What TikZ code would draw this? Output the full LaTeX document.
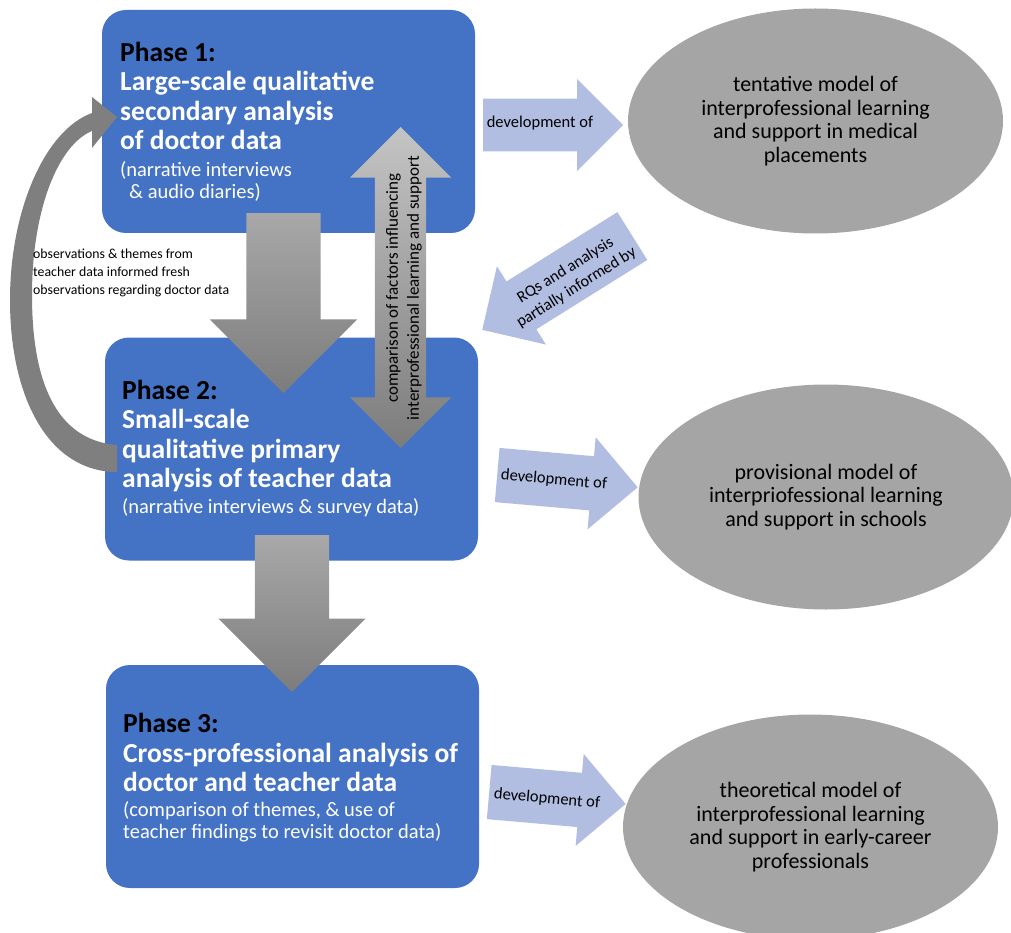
\documentclass[tikz,border=0pt]{standalone}
\usepackage{fontspec}
\setmainfont{Carlito}
\usetikzlibrary{positioning,shapes.geometric,shapes.arrows}
\definecolor{phaseblue}{HTML}{4472C4}
\definecolor{arrowblue}{HTML}{B1BEE1}
\definecolor{modelgray}{HTML}{A5A5A5}
\definecolor{flowlight}{HTML}{A8A8A8}
\definecolor{flowdark}{HTML}{7C7C7C}
\definecolor{cmplight}{HTML}{C4C4C4}
\definecolor{loopgray}{HTML}{7F7F7F}
\tikzset{
    phasebox/.style = {rectangle, rounded corners=24pt, fill=phaseblue, minimum width=373pt, minimum height=223pt, inner sep=0pt},
    phasetitle/.style = {anchor=north west, align=left, inner sep=0pt, text=white, font=\fontsize{27.5}{29.5}\selectfont\bfseries},
    phasenote/.style = {anchor=north west, align=left, inner sep=0pt, text=white, font=\fontsize{20.5}{22}\selectfont},
    model/.style = {ellipse, fill=modelgray, minimum width=375pt, minimum height=225pt, inner sep=0pt, align=center, font=\fontsize{22}{23.5}\selectfont},
    devarrow/.style = {single arrow, fill=arrowblue, single arrow head extend=19pt, minimum width=92pt, inner xsep=0pt, inner ysep=27pt},
    devtext/.style = {inner sep=0pt, align=center, font=\fontsize{16.5}{19.5}\selectfont},
    flowarrow/.style = {single arrow, single arrow head extend=36.5pt, minimum width=147pt, inner xsep=0pt, inner ysep=37pt, top color=flowlight, bottom color=flowdark}
}

\begin{document}
\begin{tikzpicture}[x=1pt, y=-1pt]
\useasboundingbox (0,0) rectangle (1011,933);

% phases
\node[phasebox] (ph1) at (288.5,121.5) {};
\node[phasebox] (ph2) at (291.5,449) {};
\node[phasebox] (ph3) at (292.5,776.5) {};

% models
\node[model] (m1) at (815.5,121) {tentative model of\\interprofessional learning\\and support in medical\\placements};
\node[model] (m2) at (826,497) {provisional model of\\interpriofessional learning\\and support in schools};
\node[model] (m3) at (810.5,827) {theoretical model of\\interprofessional learning\\and support in early-career\\professionals};

% development arrows
\node[devarrow, anchor=tail, minimum height=140pt, inner ysep=25.5pt] (d1) at (483,125) {};
\node[devarrow, anchor=tail, minimum height=141pt, rotate=-5] (d2) at (497,475) {};
\node[devarrow, anchor=tail, minimum height=137pt, rotate=-5] (d3) at (489,792) {};
\node[devtext] (d1t) at (540,123) {development of};
\node[devtext, rotate=-5] (d2t) at (554,480) {development of};
\node[devtext, rotate=-5] (d3t) at (547,799) {development of};

\node[devarrow, anchor=tip, shape border rotate=180, rotate=32, minimum height=177pt, single arrow head extend=18pt, inner ysep=28pt] (rq) at (482,330) {};
\node[devtext, rotate=32, font=\fontsize{16.3}{20.5}\selectfont] (rqt) at (571,279) {RQs and analysis\\partially informed by};

% flow between phases
\node[flowarrow, anchor=tail, rotate=-90, minimum height=180pt] (f1) at (283.5,213) {};
\node[flowarrow, anchor=tail, rotate=-90, minimum height=157pt] (f2) at (292,535) {};

\node[double arrow, rotate=90, minimum height=321pt, minimum width=101pt, double arrow head extend=25pt, inner xsep=0pt, inner ysep=25.5pt, top color=cmplight, bottom color=flowdark] (cmp) at (400.5,287.5) {};
\node[devtext, rotate=90, font=\fontsize{17}{21}\selectfont] (cmpt) at (404,288) {comparison of factors influencing\\interprofessional learning and support};

% loop back from phase 2 to phase 1
\fill[loopgray] (117,445) .. controls (55,440) and (32,380) .. (32,295)
    .. controls (32,210) and (58,145) .. (92,131) -- (92,148) -- (117,117) -- (92,97) -- (92,113)
    .. controls (45,130) and (10,210) .. (10,300) .. controls (10,400) and (50,472) .. (117,472) -- cycle;
\node[anchor=west, align=left, inner sep=0pt, font=\fontsize{13.8}{18}\selectfont] (obs) at (33,273) {observations \& themes from\\teacher data informed fresh\\observations regarding doctor data};

% phase texts
\node[phasetitle] (t1) at (120,42) {\textcolor{black}{Phase 1:}\\Large-scale qualitative\\secondary analysis\\of doctor data};
\node[phasenote] (n1) at (120,161) {(narrative interviews\\\hspace{9pt}\& audio diaries)};
\node[phasetitle] (t2) at (122,380) {\textcolor{black}{Phase 2:}\\Small-scale\\qualitative primary\\analysis of teacher data};
\node[phasenote] (n2) at (122,498) {(narrative interviews \& survey data)};
\node[phasetitle] (t3) at (123,713) {\textcolor{black}{Phase 3:}\\Cross-professional analysis of\\doctor and teacher data};
\node[phasenote] (n3) at (123,801.5) {(comparison of themes, \& use of\\teacher findings to revisit doctor data)};
\end{tikzpicture}
\end{document}
